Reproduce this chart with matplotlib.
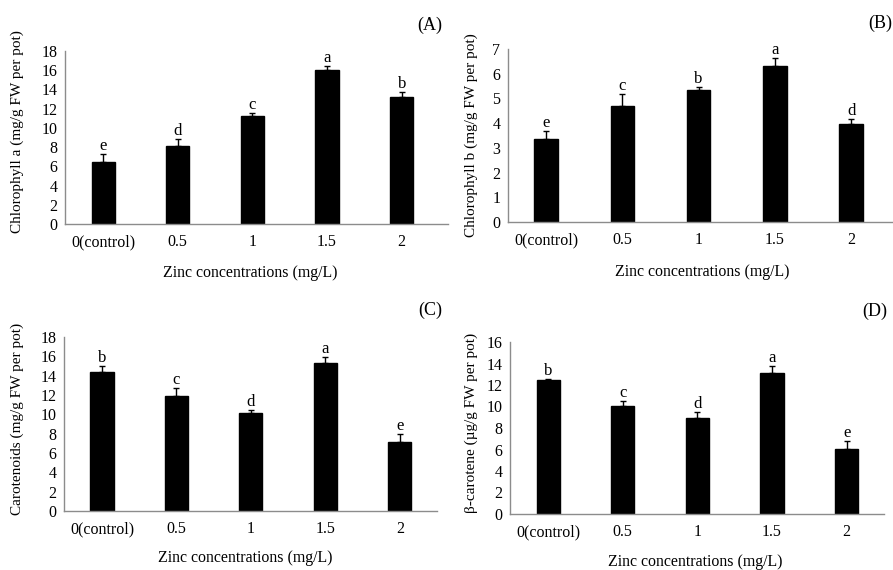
import matplotlib
matplotlib.use("Agg")
import matplotlib.pyplot as plt

plt.rcParams['font.family'] = ['Liberation Serif', 'DejaVu Serif']

categories = ["0(control)", "0.5", "1", "1.5", "2"]

chl_a = [6.5, 8.1, 11.25, 16.0, 13.2]
chl_a_err = [0.8, 0.7, 0.3, 0.4, 0.5]
chl_a_letters = ["e", "d", "c", "a", "b"]

chl_b = [3.35, 4.68, 5.36, 6.31, 3.95]
chl_b_err = [0.33, 0.5, 0.11, 0.31, 0.21]
chl_b_letters = ["e", "c", "b", "a", "d"]

carot = [14.33, 11.87, 10.17, 15.36, 7.16]
carot_err = [0.7, 0.83, 0.25, 0.6, 0.76]
carot_letters = ["b", "c", "d", "a", "e"]

bcarot = [12.43, 10.05, 8.93, 13.15, 6.08]
bcarot_err = [0.13, 0.43, 0.56, 0.59, 0.74]
bcarot_letters = ["b", "c", "d", "a", "e"]

W, H = 893, 570
fig = plt.figure(figsize=(W / 100, H / 100), dpi=100)

panels = [
    (chl_a, chl_a_err, chl_a_letters, "Chlorophyll a (mg/g FW per pot)", "(A)", 18, 2,
     (65, 448, 51, 224), (-0.51, 4.62), (17, 132), (250, 273), (430, 25)),
    (chl_b, chl_b_err, chl_b_letters, "Chlorophyll b (mg/g FW per pot)", "(B)", 7, 1,
     (508, 893, 49, 222), (-0.50, 4.55), (471, 135), (702, 272), (880, 23)),
    (carot, carot_err, carot_letters, "Carotenoids (mg/g FW per pot)", "(C)", 18, 2,
     (64, 437, 337, 511), (-0.51, 4.50), (17, 419), (245, 558), (430, 310)),
    (bcarot, bcarot_err, bcarot_letters, "\u03b2-carotene (\u00b5g/g FW per pot)", "(D)", 16, 2,
     (510, 884, 342, 514), (-0.51, 4.50), (471, 423), (695, 562), (875, 311)),
]

for (vals, errs, letters, ylab, tag, ymax, ystep, px, xlim, ylp, xlp, tagp) in panels:
    x0, x1, yt, yb = px
    ax = fig.add_axes([x0 / W, 1 - yb / H, (x1 - x0) / W, (yb - yt) / H])
    xs = list(range(len(categories)))
    ax.bar(xs, vals, width=0.31, color="black", edgecolor="black", zorder=2)
    ax.errorbar(xs, vals, yerr=[[0] * len(errs), errs], fmt="none", ecolor="black",
                elinewidth=1.0, capsize=2.5, capthick=1.0, zorder=3)
    for xi, v, e, l in zip(xs, vals, errs, letters):
        ax.annotate(l, (xi, v + e), xytext=(0, 0.0), textcoords="offset points",
                    ha="center", va="bottom", fontsize=12)
    ax.set_xlim(*xlim)
    ax.set_ylim(0, ymax)
    ax.set_yticks(range(0, ymax + 1, ystep))
    ax.set_xticks(xs)
    ax.set_xticklabels(categories)
    ax.tick_params(axis="both", length=0, labelsize=11.5)
    ax.tick_params(axis="y", pad=5.5)
    ax.tick_params(axis="x", pad=7.5)
    for s in ["top", "right"]:
        ax.spines[s].set_visible(False)
    for s in ["left", "bottom"]:
        ax.spines[s].set_color("#8c8c8c")
        ax.spines[s].set_linewidth(1.0)
    ax.set_facecolor("none")
    fig.text(ylp[0] / W, 1 - ylp[1] / H, ylab, rotation=90, ha="center", va="center", fontsize=11)
    fig.text(xlp[0] / W, 1 - xlp[1] / H, "Zinc concentrations (mg/L)", ha="center", va="center", fontsize=11.4)
    fig.text(tagp[0] / W, 1 - tagp[1] / H, tag, ha="center", va="center", fontsize=13)

fig.savefig("out.png", dpi=100)
